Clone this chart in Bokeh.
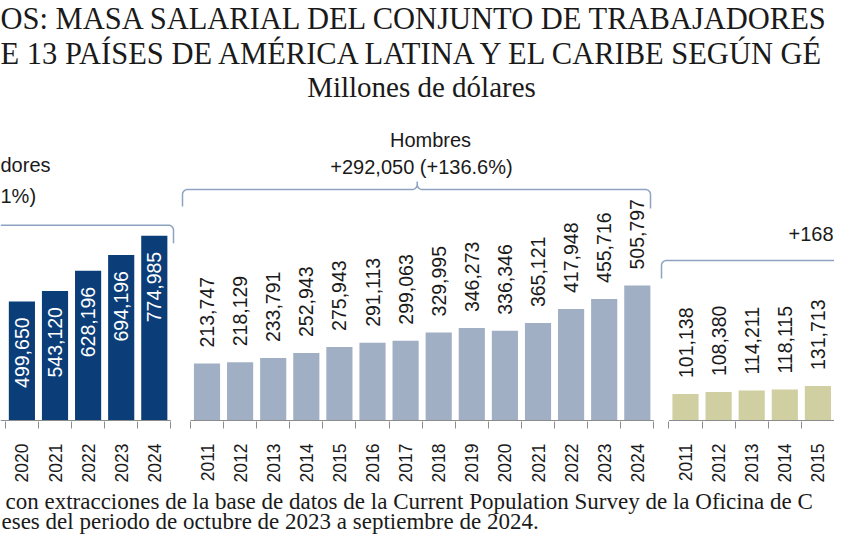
import math
from bokeh.plotting import figure
from bokeh.layouts import column, row
from bokeh.models import Range1d, FixedTicker, Label
from bokeh.core.properties import value
from bokeh.embed import file_html
from bokeh.resources import INLINE

# ---------------- data ----------------
total_years = [2020, 2021, 2022, 2023, 2024]
total_values = [499650, 543120, 628196, 694196, 774985]

men_years = [2011, 2012, 2013, 2014, 2015, 2016, 2017, 2018, 2019, 2020, 2021, 2022, 2023, 2024]
men_values = [213747, 218129, 233791, 252943, 275943, 291113, 299063, 329995, 346273,
              336346, 365121, 417948, 455716, 505797]

women_years = [2011, 2012, 2013, 2014, 2015, 2016]
women_values = [101138, 108380, 114211, 118115, 131713, 139333]

title_lines = ["OS: MASA SALARIAL DEL CONJUNTO DE TRABAJADORES",
               "E 13 PAÍSES DE AMÉRICA LATINA Y EL CARIBE SEGÚN GÉ"]
subtitle = "Millones de dólares"
total_header = ["dores", "1%)"]
men_header = ["Hombres", "+292,050 (+136.6%)"]
women_header = ["+168"]
notes = ["con extracciones de la base de datos de la Current Population Survey de la Oficina de C",
         "eses del periodo de octubre de 2023 a septiembre de 2024."]

# ---------------- style / layout ----------------
W, H = 834, 534
TITLE_H = 104
FRAME_H = 317
BORDER_B = 66
PANEL_H = FRAME_H + BORDER_B
NOTE_H = H - TITLE_H - PANEL_H
SLOT = 33.1
BAR_W = 0.79
SANS = "Liberation Sans"
SERIF = "Liberation Serif"
TXT = "#1a1a1a"
AXIS_C = "#8c8c8c"
BRACE_C = "#8ea3c2"
C_TOTAL, C_MEN, C_WOMEN = "#0b3d78", "#a1afc5", "#cfcfa1"
BL = 0.3  # baseline correction (fraction of font size)


def cy(y):
    return y - 2.0


def brace(x0, x1, y, h0=None, h1=None, xm=None, r=5.0, t=8.0):
    xs, ys = [], []

    def arc(cxx, cyy, a0, a1, n=8):
        for k in range(n + 1):
            a = math.radians(a0 + (a1 - a0) * k / n)
            xs.append(cxx + r * math.cos(a))
            ys.append(cyy + r * math.sin(a))

    if h0 is not None:
        xs.append(x0); ys.append(y - h0)
        arc(x0 + r, y - r, 180, 90)
    else:
        xs.append(x0); ys.append(y)
    if xm is not None:
        arc(xm - r, y + r, -90, 0)
        xs.append(xm); ys.append(y + t)
        arc(xm + r, y + r, 180, 270)
    if h1 is not None:
        arc(x1 - r, y - r, 90, 0)
        xs.append(x1); ys.append(y - h1)
    else:
        xs.append(x1); ys.append(y)
    return xs, ys


def make_panel(width, left, ref_year, ref_center, years, vals, color, ppv,
               inside_labels, label_color):
    xs = ref_year - (ref_center - left) / SLOT
    xe = xs + width / SLOT
    p = figure(width=width, height=PANEL_H, x_range=Range1d(xs, xe),
               y_range=Range1d(-1.0 / ppv, (FRAME_H - 1.0) / ppv),
               output_backend="svg", toolbar_location=None, y_axis_location=None,
               min_border_left=0, min_border_right=0, min_border_top=0,
               min_border_bottom=BORDER_B)
    p.outline_line_color = None
    p.xgrid.visible = False
    p.ygrid.visible = False
    p.background_fill_color = "white"
    p.border_fill_color = "white"
    p.extra_x_ranges = {"px": Range1d(0, width)}
    p.extra_y_ranges = {"px": Range1d(0, FRAME_H)}

    ax = p.xaxis[0]
    ax.ticker = FixedTicker(ticks=years,
                            minor_ticks=[y - 0.5 for y in years] + [years[-1] + 0.5])
    ax.axis_line_color = None
    ax.major_tick_line_color = None
    ax.major_tick_out = 0
    ax.major_tick_in = 0
    ax.minor_tick_in = 0
    ax.minor_tick_out = 7
    ax.minor_tick_line_color = AXIS_C
    ax.major_label_orientation = math.pi / 2
    ax.major_label_standoff = 15
    ax.major_label_text_font = SANS
    ax.major_label_text_font_size = "17.5px"
    ax.major_label_text_color = TXT
    ax.axis_label_standoff = 0
    ax.axis_label_text_font_size = "0px"

    p.vbar(x=years, top=vals, width=BAR_W, color=color, line_color=None)
    labels = [f"{v:,}" for v in vals]
    if inside_labels:
        p.text(x=years, y=vals, text=labels, angle=math.pi / 2, text_align="right",
               text_baseline="middle", y_offset=16, text_color=label_color,
               text_font=value(SANS), text_font_size="19.5px")
    else:
        p.text(x=years, y=vals, text=labels, angle=math.pi / 2, text_align="left",
               text_baseline="middle", y_offset=-16, text_color=label_color,
               text_font=value(SANS), text_font_size="19.5px")
    return p, xs, xe


def px_y(ref_y):
    return (TITLE_H + FRAME_H) - cy(ref_y)


w_tot, w_men = 177, 479
w_wom = W - w_tot - w_men
p_tot, ts, te = make_panel(w_tot, 0, 2024, 153.8, total_years, total_values, C_TOTAL,
                           0.2383e-3, True, "white")
p_men, ms, me = make_panel(w_men, w_tot, 2011, 206.5, men_years, men_values, C_MEN,
                           0.2668e-3, False, TXT)
p_wom, ws, we = make_panel(w_wom, w_tot + w_men, 2011, 685.0, women_years, women_values,
                           C_WOMEN, 0.262e-3, False, TXT)

# baselines
p_tot.segment(x0=[ts], y0=[0], x1=[total_years[-1] + 0.5], y1=[0], line_color=AXIS_C, line_width=1)
p_men.segment(x0=[men_years[0] - 0.5], y0=[0], x1=[men_years[-1] + 0.5], y1=[0],
              line_color=AXIS_C, line_width=1)
p_wom.segment(x0=[women_years[0] - 0.5], y0=[0], x1=[we], y1=[0], line_color=AXIS_C, line_width=1)

# braces
bx, by = brace(0, 173, px_y(226.7), h1=18)
p_tot.line(bx, by, line_color=BRACE_C, line_width=1.5, x_range_name="px", y_range_name="px")
L = w_tot
bx, by = brace(182 - L, 650 - L, px_y(191), h0=17, h1=19, xm=416.7 - L)
p_men.line(bx, by, line_color=BRACE_C, line_width=1.5, x_range_name="px", y_range_name="px")
L = w_tot + w_men
bx, by = brace(661 - L, w_wom, px_y(262), h0=18)
p_wom.line(bx, by, line_color=BRACE_C, line_width=1.5, x_range_name="px", y_range_name="px")

# group headers
HFS = 20
hdr = dict(text_font=value(SANS), text_font_size=f"{HFS}px", text_color=TXT,
           text_baseline="alphabetic", x_range_name="px", y_range_name="px")
up = BL * HFS
p_tot.text(x=[0, 0], y=[px_y(172) + up, px_y(203) + up], text=total_header,
           text_align="left", **hdr)
L = w_tot
p_men.text(x=[430 - L, 421 - L], y=[px_y(147) + up, px_y(174) + up], text=men_header,
           text_align="center", **hdr)
L = w_tot + w_men
p_wom.text(x=[w_wom - 1], y=[px_y(241) + up], text=women_header, text_align="right", **hdr)


def text_fig(height):
    f = figure(width=W, height=height, x_range=Range1d(0, W), y_range=Range1d(0, height),
               output_backend="svg", toolbar_location=None, x_axis_location=None,
               y_axis_location=None, min_border=0)
    f.outline_line_color = None
    f.xgrid.visible = False
    f.ygrid.visible = False
    f.background_fill_color = "white"
    f.border_fill_color = "white"
    return f


def add_label(f, x, base_from_top, text, fs, align, font):
    f.add_layout(Label(x=x, y=f.height - base_from_top + BL * fs, text=text, text_font=font,
                       text_font_size=f"{fs}px", text_color=TXT, text_align=align,
                       text_baseline="alphabetic"))


t = text_fig(TITLE_H)
add_label(t, 0, cy(30), title_lines[0], 30.5, "left", SERIF)
add_label(t, 0, cy(65), title_lines[1], 30.5, "left", SERIF)
add_label(t, 421, cy(97), subtitle, 29, "center", SERIF)

n = text_fig(NOTE_H)
add_label(n, 5, 21, notes[0], 23, "left", SERIF)
add_label(n, 1, 41, notes[1], 23, "left", SERIF)

layout = column(t, row(p_tot, p_men, p_wom), n)
open("out.html", "w").write(file_html(layout, INLINE))
